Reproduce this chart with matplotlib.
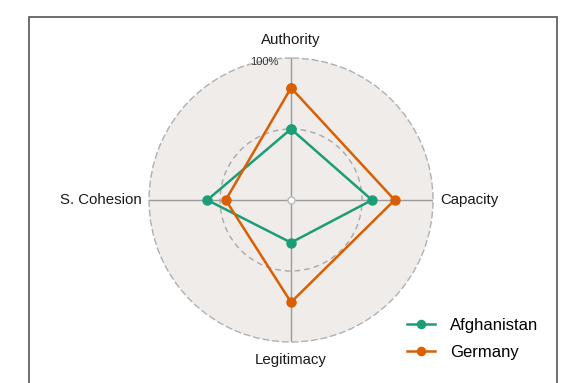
import matplotlib.pyplot as plt
import numpy as np
from matplotlib.patches import Rectangle

# dimensões do radar (sentido horário a partir do topo)
categorias = ['Authority', 'Capacity', 'Legitimacy', 'S. Cohesion']
paises = ['Afghanistan', 'Germany']
afeganistao = [0.50, 0.57, 0.30, 0.59]
alemanha = [0.79, 0.73, 0.72, 0.46]
cores = ['#1b9e77', '#d95f02']

plt.rcParams['font.family'] = ['Liberation Sans', 'DejaVu Sans']

fig = plt.figure(figsize=(5.74, 3.83), dpi=100)

# moldura cinza (a borda de baixo fica fora da imagem)
fig.patches.append(Rectangle((29 / 574, -0.05), (557 - 29) / 574, 1.05 - 17 / 383,
                             transform=fig.transFigure, fill=False,
                             edgecolor='#555555', linewidth=1.2))

ax = fig.add_axes([0.2596, 0.107, 0.4948, 0.7415], projection='polar')
ax.set_theta_offset(np.pi / 2)
ax.set_theta_direction(-1)
ax.set_facecolor('#efece9')
ax.set_ylim(0, 1)

angulos = np.linspace(0, 2 * np.pi, len(categorias), endpoint=False)

# grade: eixos radiais sólidos, círculo de 50% tracejado
ax.set_xticks(angulos)
ax.set_xticklabels([])
ax.set_yticks([0.5])
ax.set_yticklabels([])
ax.xaxis.grid(True, color='#9a9a9a', linewidth=1, linestyle='-')
ax.yaxis.grid(True, color='#a8a8a8', linewidth=1, linestyle=(0, (4, 3)))
ax.spines['polar'].set_linestyle((0, (4, 3)))
ax.spines['polar'].set_edgecolor('#b0b0b0')
ax.spines['polar'].set_linewidth(1)
ax.tick_params(length=0)

# pequeno círculo no centro
ax.plot([0], [0], marker='o', markersize=5, markerfacecolor='white',
        markeredgecolor='#bbbbbb', markeredgewidth=1, zorder=4)

for nome, valores, cor in zip(paises, [afeganistao, alemanha], cores):
    th = np.append(angulos, angulos[0])
    r = np.append(valores, valores[0])
    ax.plot(th, r, color=cor, linewidth=1.8, marker='o', markersize=6.5,
            label=nome, zorder=5)

# rótulos das categorias
posicoes = [(1.13, 'center', 'center'), (1.05, 'left', 'center'),
            (1.13, 'center', 'center'), (1.05, 'right', 'center')]
for ang, cat, (rr, ha, va) in zip(angulos, categorias, posicoes):
    ax.text(ang, rr, cat, ha=ha, va=va, fontsize=10.8, color='#1a1a1a')

ax.annotate('100%', xy=(0, 1.0), xytext=(-13, -4), textcoords='offset pixels',
            ha='right', va='center', fontsize=8, color='#333333',
            annotation_clip=False)

fig.legend(loc='upper left', bbox_to_anchor=(407 / 574, (383 - 318) / 383),
           borderaxespad=0, borderpad=0, frameon=False, fontsize=12,
           handlelength=1.7, handletextpad=0.9, labelspacing=0.7,
           markerscale=0.9)

fig.savefig('out.png', dpi=100)
